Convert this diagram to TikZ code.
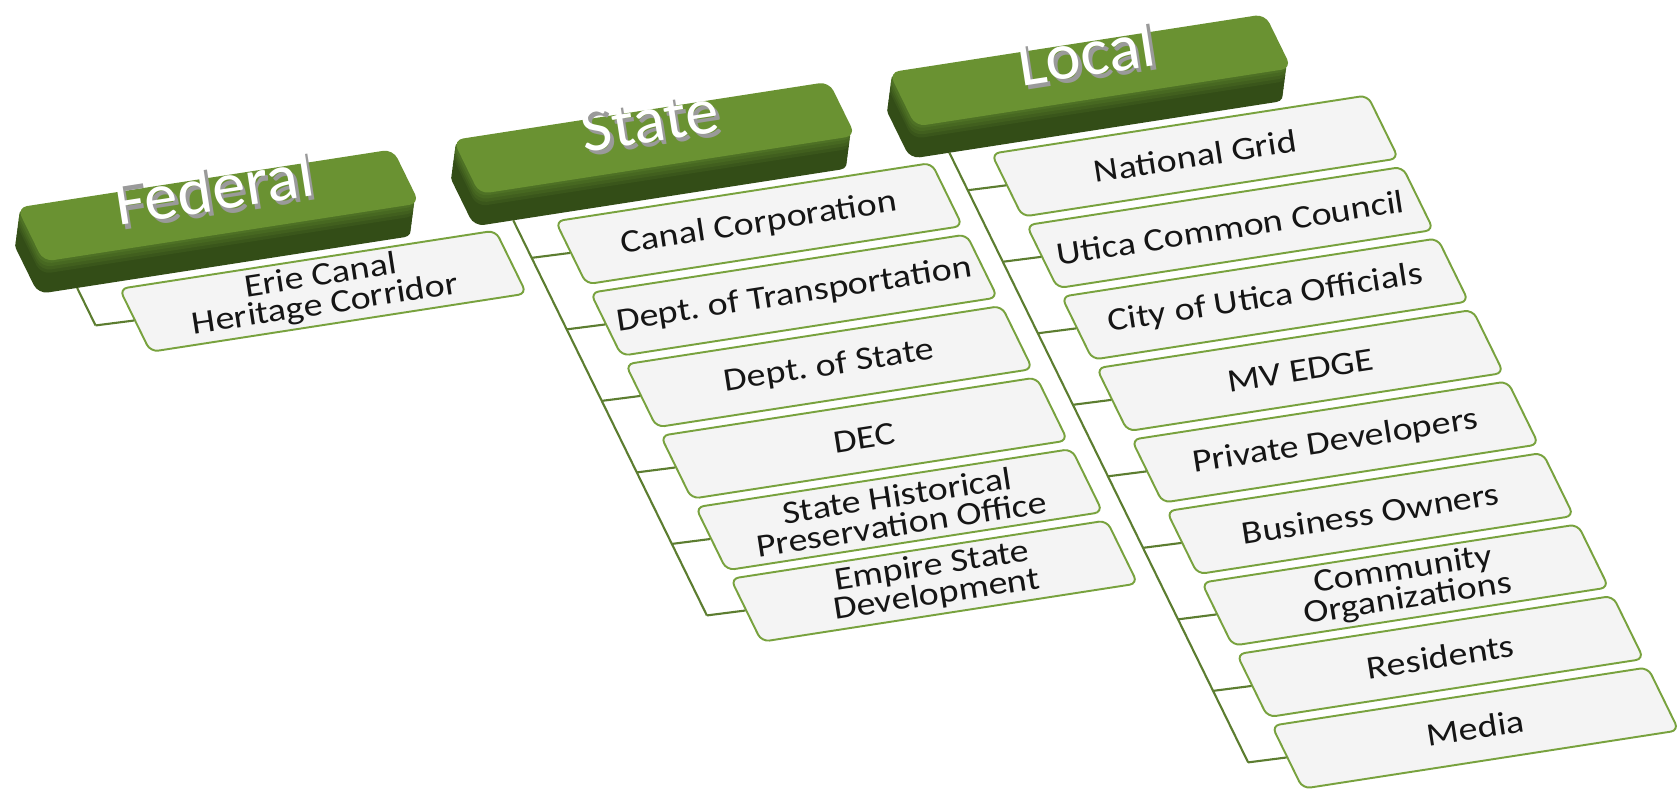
\documentclass[tikz,border=0pt]{standalone}
\usepackage{fontspec}
\setmainfont{Carlito}

\definecolor{topgreen}{HTML}{6A9232}
\definecolor{bevelgreen}{HTML}{557A28}
\definecolor{darkgreen}{HTML}{334D17}
\definecolor{boxline}{HTML}{78A23E}
\definecolor{boxfill}{HTML}{F4F4F4}
\definecolor{linkgreen}{HTML}{5C7D30}
\definecolor{embgray}{HTML}{9A9A9A}
\definecolor{txtgray}{HTML}{151515}

% white title with a grey raised edge
\newcommand{\embossed}[1]{\makebox[0pt][l]{\kern0.04em\raisebox{-0.07em}{\textcolor{embgray}{#1}}}#1}

\begin{document}
\begin{tikzpicture}[
    hdr/.style={rectangle, rounded corners=0.1cm, fill=topgreen, minimum width=3.76cm,
      minimum height=0.54cm, inner sep=0pt, anchor=north west, transform shape},
    item/.style={rectangle, rounded corners=0.08cm, draw=boxline, line width=0.55pt,
      fill=boxfill, minimum width=3.76cm, minimum height=0.63cm, inner sep=0pt,
      anchor=north west, transform shape},
    itemtext/.style={rotate=8.8, yscale=0.86, align=center, text=txtgray,
      inner sep=0pt, font=\fontsize{10.8}{9.6}\selectfont},
    hdrtext/.style={rotate=8.8, text=white, font=\fontsize{19}{20}\selectfont},
    link/.style={draw=linkgreen, line width=0.6pt}]

  \useasboundingbox (0,0) rectangle (16.78,-7.90);

  % the whole chart lies on a tilted plane
  \begin{scope}[cm={1,0.155,-0.49,1,(0.16,-2.07)}]

    % federal
    \coordinate (fed-top) at (0.20,-0.84);
    \foreach \txt [count=\i from 0] in {{Erie Canal\\Heritage Corridor}} {
      \node[item] (fed-\i) at (0.58,{-0.90-0.715*\i}) {};
      \node[itemtext] (fed-\i-label) at (fed-\i.center) {\txt};
      \coordinate (fed-j\i) at (0.20,{-1.215-0.715*\i});
      \draw[link] (fed-j\i) -- (fed-\i.west);
    }
    \draw[link] (fed-top) -- (fed-j0);

    % state
    \coordinate (sta-top) at (4.56,-0.84);
    \foreach \txt [count=\i from 0] in {Canal Corporation, Dept.\ of Transportation,
        Dept.\ of State, DEC, {State Historical\\Preservation Office},
        {Empire State\\Development}} {
      \node[item] (sta-\i) at (4.94,{-0.90-0.715*\i}) {};
      \node[itemtext] (sta-\i-label) at (sta-\i.center) {\txt};
      \coordinate (sta-j\i) at (4.56,{-1.215-0.715*\i});
      \draw[link] (sta-j\i) -- (sta-\i.west);
    }
    \draw[link] (sta-top) -- (sta-j5);

    % local
    \coordinate (loc-top) at (8.92,-0.84);
    \foreach \txt [count=\i from 0] in {National Grid, Utica Common Council,
        City of Utica Officials, MV EDGE, Private Developers, Business Owners,
        {Community\\Organizations}, Residents, Media} {
      \node[item] (loc-\i) at (9.30,{-0.90-0.715*\i}) {};
      \node[itemtext] (loc-\i-label) at (loc-\i.center) {\txt};
      \coordinate (loc-j\i) at (8.92,{-1.215-0.715*\i});
      \draw[link] (loc-j\i) -- (loc-\i.west);
    }
    \draw[link] (loc-top) -- (loc-j8);

    % green title slabs
    \foreach \u/\name/\title in {0/fed/Federal, 4.36/sta/State, 8.72/loc/Local} {
      % shifted copies make the raised side, darker towards the bottom
      \foreach \k in {10,...,1} {
        \pgfmathtruncatemacro\mix{min(100,20*\k)}
        \fill[darkgreen!\mix!bevelgreen, rounded corners=0.1cm]
          ({\u-0.019*\k},{-0.03*\k}) rectangle ({\u+3.76-0.019*\k},{-0.54-0.03*\k});
      }
      \node[hdr] (\name) at (\u,0) {};
      \node[hdrtext] (\name-title) at ({\u+1.92},-0.13) {\embossed{\title}};
    }
  \end{scope}
\end{tikzpicture}
\end{document}
